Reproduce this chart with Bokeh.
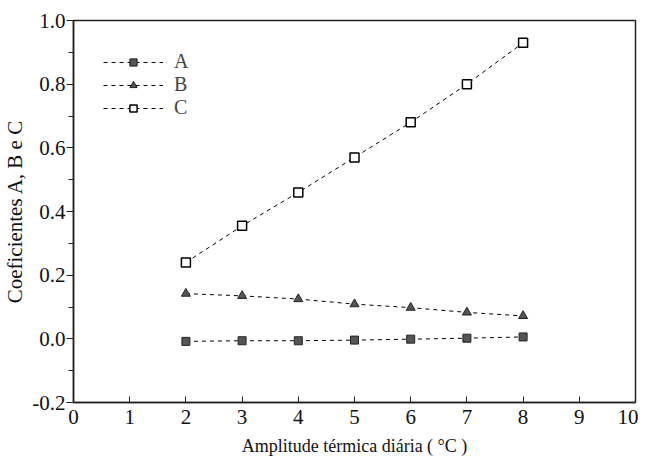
from bokeh.plotting import figure
from bokeh.embed import file_html
from bokeh.resources import INLINE
from bokeh.models import FixedTicker, Legend, LegendItem, CustomJSTickFormatter

x = [2, 3, 4, 5, 6, 7, 8]
a_vals = [-0.008, -0.006, -0.006, -0.004, -0.001, 0.002, 0.006]
b_vals = [0.142, 0.135, 0.125, 0.109, 0.098, 0.083, 0.072]
c_vals = [0.24, 0.355, 0.46, 0.57, 0.68, 0.80, 0.93]
series_names = ["A", "B", "C"]
x_ticks = list(range(0, 11))
y_ticks = [-0.2, 0.0, 0.2, 0.4, 0.6, 0.8, 1.0]
y_minor = [-0.1, 0.1, 0.3, 0.5, 0.7, 0.9]

FONT = "Liberation Serif"

p = figure(width=638, height=460, output_backend="svg", toolbar_location=None,
           x_range=(0, 10), y_range=(-0.2, 1.0),
           min_border_left=72, min_border_right=3, min_border_top=20, min_border_bottom=58)

p.xgrid.visible = False
p.ygrid.visible = False
p.outline_line_color = "#222222"
p.outline_line_width = 1.5
p.background_fill_color = "white"
p.border_fill_color = "white"

p.xaxis.ticker = FixedTicker(ticks=x_ticks)
p.xaxis.major_tick_in = 6
p.xaxis.major_tick_out = 0
p.yaxis.ticker = FixedTicker(ticks=y_ticks, minor_ticks=y_minor)
p.yaxis.major_tick_in = 0
p.yaxis.major_tick_out = 7
p.yaxis.minor_tick_in = 0
p.yaxis.minor_tick_out = 5
p.yaxis.formatter = CustomJSTickFormatter(code="return tick.toFixed(1);")

for ax in (p.xaxis, p.yaxis):
    ax.axis_line_color = "#222222"
    ax.axis_line_width = 1.5
    ax.major_tick_line_color = "#222222"
    ax.major_label_text_font = FONT
    ax.major_label_text_font_size = "21px"
    ax.major_label_text_color = "#111111"
    ax.axis_label_text_font = FONT
    ax.axis_label_text_font_style = "normal"
    ax.axis_label_text_color = "#111111"
p.xaxis.axis_label_text_font_size = "18px"
p.yaxis.axis_label_text_font_size = "21px"
p.xaxis.minor_tick_line_color = None
p.yaxis.minor_tick_line_color = "#222222"

p.xaxis.axis_label = "Amplitude térmica diária ( °C )"
p.yaxis.axis_label = "Coeficientes A, B e C"
p.xaxis.major_label_standoff = 7
p.xaxis.axis_label_standoff = 9
p.yaxis.major_label_standoff = 1
p.yaxis.axis_label_standoff = 2

dash = "4 4"
la = p.line(x, a_vals, line_color="black", line_dash=dash, line_width=1)
ma = p.scatter(x, a_vals, marker="square", size=8, fill_color="#555555", line_color="#222222")
lb = p.line(x, b_vals, line_color="black", line_dash=dash, line_width=1)
mb = p.scatter(x, b_vals, marker="triangle", size=9, fill_color="#555555", line_color="#222222")
lc = p.line(x, c_vals, line_color="black", line_dash=dash, line_width=1)
mc = p.scatter(x, c_vals, marker="square", size=9, fill_color="white", line_color="black", line_width=1.5)

legend = Legend(items=[
    LegendItem(label=series_names[0], renderers=[la, ma]),
    LegendItem(label=series_names[1], renderers=[lb, mb]),
    LegendItem(label=series_names[2], renderers=[lc, mc]),
], location="top_left")
legend.background_fill_alpha = 0
legend.border_line_color = None
legend.label_text_font = FONT
legend.label_text_font_size = "20px"
legend.glyph_width = 60
legend.glyph_height = 18
legend.label_height = 18
legend.spacing = 0
legend.label_standoff = 11
legend.margin = 30
legend.padding = 5
p.add_layout(legend)

open("out.html", "w").write(file_html(p, INLINE))
